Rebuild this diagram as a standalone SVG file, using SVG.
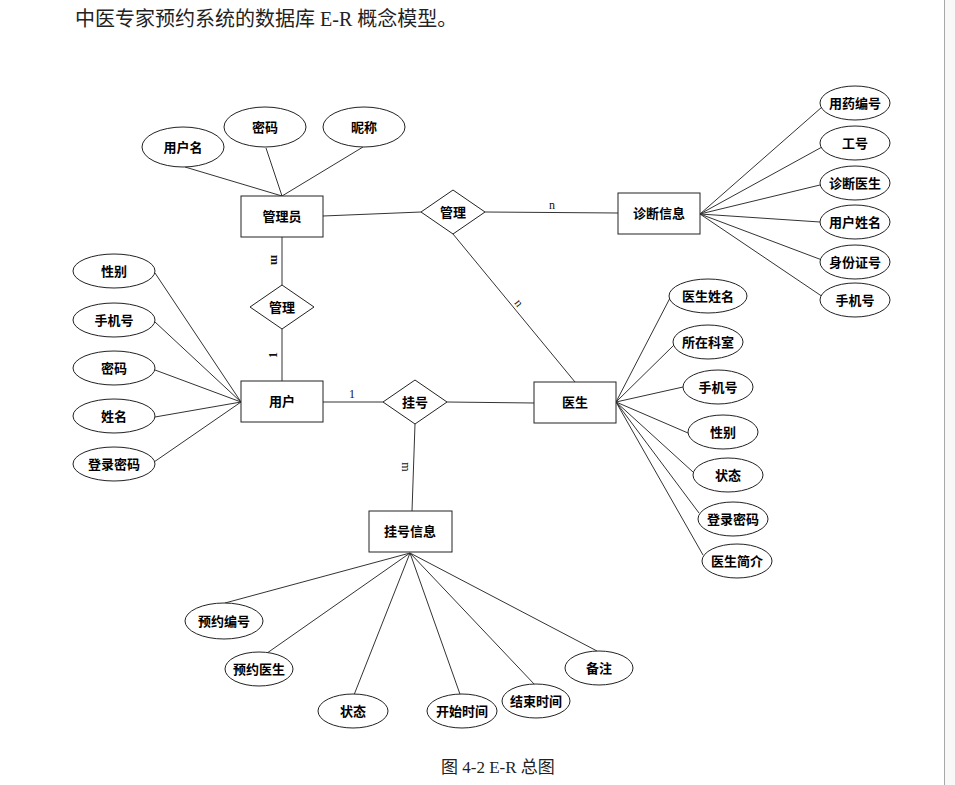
<svg xmlns="http://www.w3.org/2000/svg" width="955" height="785" viewBox="0 0 955 785">
<style>
.bg{fill:#ffffff}
.ent{fill:#ffffff;stroke:#222;stroke-width:1}
.attr{fill:#ffffff;stroke:#222;stroke-width:1}
.rel{fill:#ffffff;stroke:#222;stroke-width:1}
.lbl{font-family:"Noto Sans CJK SC","Liberation Sans",sans-serif;font-size:13px;font-weight:bold;fill:#000;text-anchor:middle;dominant-baseline:central}
.card{font-family:"Liberation Serif",serif;font-size:12px;fill:#111;text-anchor:middle;dominant-baseline:central}
.conn line{stroke:#333;stroke-width:1}
.doc{font-family:"Liberation Serif","Noto Sans CJK SC",serif;fill:#222}
</style>
<rect x="0" y="0" width="955" height="785" class="bg"/>
<rect x="945" y="0" width="10" height="785" fill="#f8f8f8"/>
<line x1="944.5" y1="0" x2="944.5" y2="785" stroke="#a8a8a8" stroke-width="1"/>

<text class="doc" x="75" y="26" font-size="20">中医专家预约系统的数据库 E-R 概念模型。</text>
<text class="doc" x="441" y="773" font-size="17">图 4-2 E-R 总图</text>

<g class="conn" id="connectors">
  <!-- 管理员 attributes -->
  <line x1="185" y1="167" x2="282" y2="196"/>
  <line x1="266" y1="148" x2="282" y2="196"/>
  <line x1="363" y1="147" x2="282" y2="196"/>
  <!-- 用户 attributes -->
  <line x1="155" y1="273" x2="241" y2="402"/>
  <line x1="155" y1="322" x2="241" y2="402"/>
  <line x1="155" y1="370" x2="241" y2="402"/>
  <line x1="155" y1="417" x2="241" y2="402"/>
  <line x1="154" y1="462" x2="241" y2="402"/>
  <!-- 诊断信息 attributes -->
  <line x1="700" y1="214" x2="822" y2="107"/>
  <line x1="700" y1="214" x2="822" y2="147"/>
  <line x1="700" y1="214" x2="820" y2="185"/>
  <line x1="700" y1="214" x2="820" y2="222"/>
  <line x1="700" y1="214" x2="822" y2="260"/>
  <line x1="700" y1="214" x2="823" y2="297"/>
  <!-- 医生 attributes -->
  <line x1="616" y1="402" x2="670" y2="298"/>
  <line x1="616" y1="402" x2="674" y2="345"/>
  <line x1="616" y1="402" x2="683" y2="387"/>
  <line x1="616" y1="402" x2="688" y2="433"/>
  <line x1="616" y1="402" x2="693" y2="472"/>
  <line x1="616" y1="402" x2="699" y2="513"/>
  <line x1="616" y1="402" x2="703" y2="555"/>
  <!-- 挂号信息 attributes -->
  <line x1="410" y1="553" x2="225" y2="603"/>
  <line x1="410" y1="553" x2="260" y2="658"/>
  <line x1="410" y1="553" x2="352" y2="700"/>
  <line x1="410" y1="553" x2="461" y2="697"/>
  <line x1="410" y1="553" x2="535" y2="685"/>
  <line x1="410" y1="553" x2="597" y2="651"/>
  <!-- relationships -->
  <line x1="323" y1="216" x2="421" y2="212"/>
  <line x1="485" y1="212" x2="618" y2="213"/>
  <line x1="453" y1="234" x2="575" y2="382"/>
  <line x1="282" y1="237" x2="282" y2="285"/>
  <line x1="282" y1="329" x2="282" y2="381"/>
  <line x1="323" y1="402" x2="383" y2="402"/>
  <line x1="447" y1="402" x2="534" y2="403"/>
  <line x1="415" y1="424" x2="412" y2="511"/>
  <!-- cardinality labels -->
  <text class="card" x="552" y="205">n</text>
  <text class="card" x="519" y="303" transform="rotate(52 519 303)">n</text>
  <text class="card" x="275" y="260" font-size="9" font-weight="bold" transform="rotate(90 275 260)">m</text>
  <text class="card" x="273" y="355" font-weight="bold" transform="rotate(-90 273 355)">1</text>
  <text class="card" x="352" y="394">1</text>
  <text class="card" x="406" y="467" font-size="10" transform="rotate(90 406 467)">m</text>
</g>

<!-- Entities -->
<g id="admin"><rect class="ent" x="241" y="196" width="82" height="41"/><text class="lbl" x="282" y="215.5">管理员</text></g>
<g id="diagnosis"><rect class="ent" x="618" y="193" width="82" height="41"/><text class="lbl" x="659" y="212.5">诊断信息</text></g>
<g id="user"><rect class="ent" x="241" y="381" width="82" height="41"/><text class="lbl" x="282" y="400.5">用户</text></g>
<g id="doctor"><rect class="ent" x="534" y="382" width="82" height="41"/><text class="lbl" x="575" y="401.5">医生</text></g>
<g id="registration"><rect class="ent" x="369" y="511" width="83" height="41"/><text class="lbl" x="410" y="530.5">挂号信息</text></g>

<!-- Relationships -->
<g id="rel-manage-top"><polygon class="rel" points="421,212 453,190 485,212 453,234"/><text class="lbl" x="453" y="211.5">管理</text></g>
<g id="rel-manage-left"><polygon class="rel" points="250,307 282,285 314,307 282,329"/><text class="lbl" x="282" y="306.5">管理</text></g>
<g id="rel-register"><polygon class="rel" points="383,402 415,380 447,402 415,424"/><text class="lbl" x="415" y="401.5">挂号</text></g>

<!-- 管理员 attributes -->
<g id="a-admin-username"><ellipse class="attr" cx="183" cy="147" rx="41" ry="20"/><text class="lbl" x="183" y="146.5">用户名</text></g>
<g id="a-admin-pwd"><ellipse class="attr" cx="265" cy="127" rx="41" ry="20"/><text class="lbl" x="265" y="126.5">密码</text></g>
<g id="a-admin-nick"><ellipse class="attr" cx="364" cy="127" rx="41" ry="20"/><text class="lbl" x="364" y="126.5">昵称</text></g>

<!-- 用户 attributes -->
<g id="a-user-sex"><ellipse class="attr" cx="114" cy="271" rx="41" ry="17"/><text class="lbl" x="114" y="270.5">性别</text></g>
<g id="a-user-phone"><ellipse class="attr" cx="114" cy="320" rx="41" ry="17"/><text class="lbl" x="114" y="319.5">手机号</text></g>
<g id="a-user-pwd"><ellipse class="attr" cx="114" cy="368" rx="41" ry="17"/><text class="lbl" x="114" y="367.5">密码</text></g>
<g id="a-user-name"><ellipse class="attr" cx="114" cy="416" rx="41" ry="17"/><text class="lbl" x="114" y="415.5">姓名</text></g>
<g id="a-user-login"><ellipse class="attr" cx="114" cy="464" rx="41" ry="17"/><text class="lbl" x="114" y="463.5">登录密码</text></g>

<!-- 诊断信息 attributes -->
<g id="a-dx-drug"><ellipse class="attr" cx="855" cy="103" rx="35" ry="17"/><text class="lbl" x="855" y="102.5">用药编号</text></g>
<g id="a-dx-jobno"><ellipse class="attr" cx="855" cy="143" rx="35" ry="17"/><text class="lbl" x="855" y="142.5">工号</text></g>
<g id="a-dx-doctor"><ellipse class="attr" cx="855" cy="183" rx="35" ry="17"/><text class="lbl" x="855" y="182.5">诊断医生</text></g>
<g id="a-dx-user"><ellipse class="attr" cx="855" cy="222" rx="35" ry="17"/><text class="lbl" x="855" y="221.5">用户姓名</text></g>
<g id="a-dx-id"><ellipse class="attr" cx="855" cy="262" rx="35" ry="17"/><text class="lbl" x="855" y="261.5">身份证号</text></g>
<g id="a-dx-phone"><ellipse class="attr" cx="855" cy="300" rx="35" ry="17"/><text class="lbl" x="855" y="299.5">手机号</text></g>

<!-- 医生 attributes -->
<g id="a-doc-name"><ellipse class="attr" cx="708" cy="296" rx="39" ry="17"/><text class="lbl" x="708" y="295.5">医生姓名</text></g>
<g id="a-doc-dept"><ellipse class="attr" cx="708" cy="342" rx="35" ry="17"/><text class="lbl" x="708" y="341.5">所在科室</text></g>
<g id="a-doc-phone"><ellipse class="attr" cx="718" cy="387" rx="35" ry="17"/><text class="lbl" x="718" y="386.5">手机号</text></g>
<g id="a-doc-sex"><ellipse class="attr" cx="723" cy="432" rx="35" ry="17"/><text class="lbl" x="723" y="431.5">性别</text></g>
<g id="a-doc-status"><ellipse class="attr" cx="728" cy="475" rx="35" ry="17"/><text class="lbl" x="728" y="474.5">状态</text></g>
<g id="a-doc-login"><ellipse class="attr" cx="733" cy="519" rx="35" ry="17"/><text class="lbl" x="733" y="518.5">登录密码</text></g>
<g id="a-doc-intro"><ellipse class="attr" cx="737" cy="561" rx="35" ry="17"/><text class="lbl" x="737" y="560.5">医生简介</text></g>

<!-- 挂号信息 attributes -->
<g id="a-reg-no"><ellipse class="attr" cx="224" cy="621" rx="39" ry="18"/><text class="lbl" x="224" y="620.5">预约编号</text></g>
<g id="a-reg-doctor"><ellipse class="attr" cx="259" cy="669" rx="34" ry="17"/><text class="lbl" x="259" y="668.5">预约医生</text></g>
<g id="a-reg-status"><ellipse class="attr" cx="353" cy="711" rx="35" ry="17"/><text class="lbl" x="353" y="710.5">状态</text></g>
<g id="a-reg-start"><ellipse class="attr" cx="462" cy="711" rx="35" ry="17"/><text class="lbl" x="462" y="710.5">开始时间</text></g>
<g id="a-reg-end"><ellipse class="attr" cx="536" cy="701" rx="34" ry="17"/><text class="lbl" x="536" y="700.5">结束时间</text></g>
<g id="a-reg-note"><ellipse class="attr" cx="599" cy="668" rx="34" ry="17"/><text class="lbl" x="599" y="667.5">备注</text></g>
</svg>
